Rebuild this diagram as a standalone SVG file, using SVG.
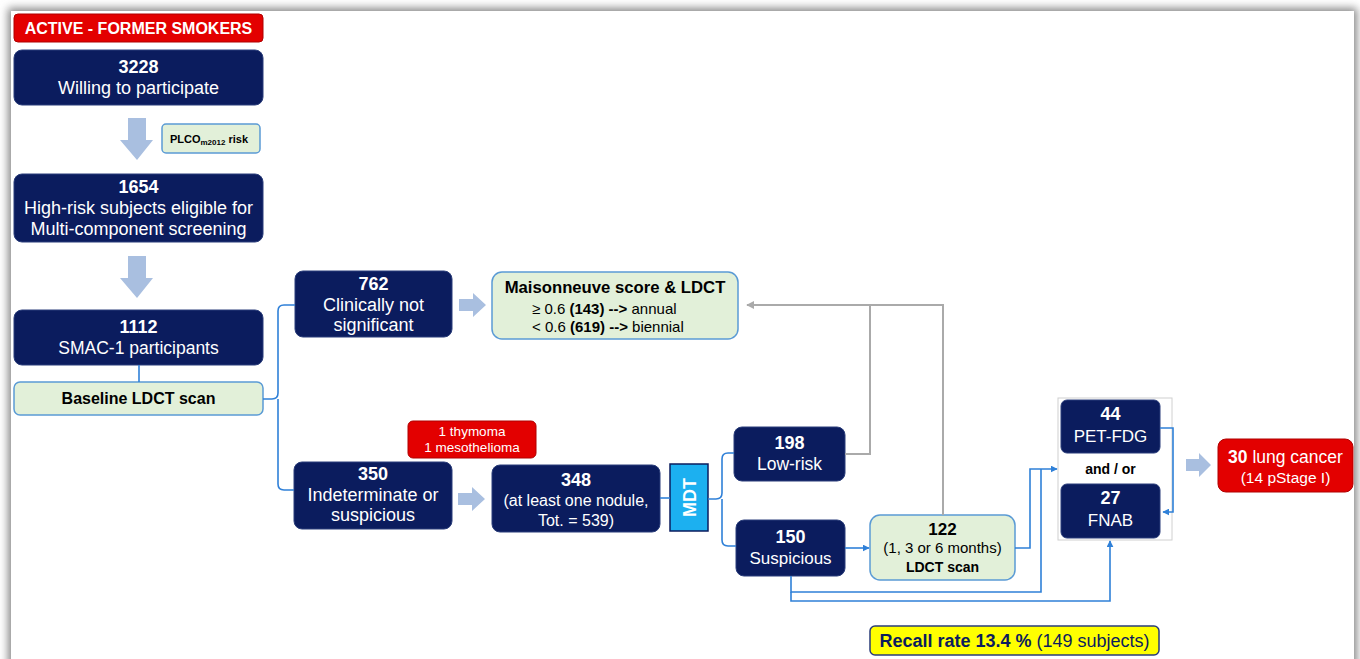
<svg xmlns="http://www.w3.org/2000/svg" width="1360" height="659" viewBox="0 0 1360 659">
<defs>
<filter id="sh" x="-5%" y="-5%" width="110%" height="110%"><feGaussianBlur stdDeviation="4"/></filter>
<marker id="ab" viewBox="0 0 10 10" refX="9" refY="5" markerWidth="7" markerHeight="7" orient="auto" markerUnits="userSpaceOnUse"><path d="M0,0 L10,5 L0,10 z" fill="#2f80d8"/></marker>
<marker id="ag" viewBox="0 0 10 10" refX="9" refY="5" markerWidth="8" markerHeight="8" orient="auto" markerUnits="userSpaceOnUse"><path d="M0,0 L10,5 L0,10 z" fill="#aaaaaa"/></marker>
<style>
.nv{fill:#0b1c5e;stroke:#2a3d7a;stroke-width:1}
.gr{fill:#e2f0d9;stroke:#5b9bd5;stroke-width:1.5}
.rd{fill:#e30000;stroke:#b00000;stroke-width:1}
.fa{fill:#a9bfe0}
text{font-family:"Liberation Sans",Arial,sans-serif;text-anchor:middle}
.w{fill:#ffffff;font-size:18px}
.b{font-weight:bold}
.k{fill:#000000;font-size:15px}
.cb{fill:none;stroke:#2f80d8;stroke-width:1.6}
.cg{fill:none;stroke:#aaaaaa;stroke-width:2}
</style>
</defs>
<rect x="0" y="0" width="1360" height="659" fill="#ffffff"/>
<rect x="8" y="8" width="1349" height="660" fill="#888888" filter="url(#sh)"/>
<rect x="11" y="11" width="1343" height="660" fill="#ffffff"/>

<g id="n-header">
<rect x="14" y="14" width="249" height="28" rx="4" class="rd"/>
<text x="138.5" y="34" class="w b" style="font-size:16px">ACTIVE - FORMER SMOKERS</text>
</g>
<g id="n-3228">
<rect x="14" y="50" width="249" height="55" rx="8" class="nv"/>
<text x="138.5" y="73" class="w b">3228</text>
<text x="138.5" y="94" class="w">Willing to participate</text>
</g>
<g id="n-plco">
<rect x="162" y="124" width="98" height="29" rx="4" class="gr"/>
<text x="209" y="143" font-size="11" font-weight="bold" fill="#000">PLCO<tspan font-size="8" dy="2">m2012</tspan><tspan dy="-2"> risk</tspan></text>
</g>
<g id="n-1654">
<rect x="14" y="174" width="249" height="68" rx="8" class="nv"/>
<text x="138.5" y="193" class="w b">1654</text>
<text x="138.5" y="214" class="w">High-risk subjects eligible for</text>
<text x="138.5" y="235" class="w">Multi-component screening</text>
</g>
<g id="n-1112">
<rect x="14" y="310" width="249" height="55" rx="8" class="nv"/>
<text x="138.5" y="333" class="w b">1112</text>
<text x="138.5" y="354" class="w" style="font-size:17.5px">SMAC-1 participants</text>
</g>
<g id="n-baseline">
<rect x="14" y="382" width="249" height="33" rx="6" class="gr"/>
<text x="138.5" y="404" class="k b" style="font-size:16px">Baseline LDCT scan</text>
</g>
<g id="n-762">
<rect x="295" y="271" width="157" height="66" rx="8" class="nv"/>
<text x="373.5" y="290" class="w b">762</text>
<text x="373.5" y="311" class="w">Clinically not</text>
<text x="373.5" y="331" class="w">significant</text>
</g>
<g id="n-maison">
<rect x="492" y="272" width="246" height="67" rx="10" class="gr"/>
<text x="615" y="293" class="k b" style="font-size:16.7px">Maisonneuve score &amp; LDCT</text>
<text x="532" y="314" class="k" style="text-anchor:start">≥ 0.6 <tspan font-weight="bold">(143) --&gt;</tspan> annual</text>
<text x="532" y="332" class="k" style="text-anchor:start">&lt; 0.6 <tspan font-weight="bold">(619) --&gt;</tspan> biennial</text>
</g>
<g id="n-thymoma">
<rect x="408" y="421" width="128" height="37" rx="5" class="rd"/>
<text x="472" y="436" class="w" style="font-size:13.5px">1 thymoma</text>
<text x="472" y="452" class="w" style="font-size:13.5px">1 mesothelioma</text>
</g>
<g id="n-350">
<rect x="294" y="462" width="158" height="67" rx="8" class="nv"/>
<text x="373" y="480" class="w b">350</text>
<text x="373" y="501" class="w">Indeterminate or</text>
<text x="373" y="521" class="w">suspicious</text>
</g>
<g id="n-348">
<rect x="492" y="465" width="168" height="67" rx="8" class="nv"/>
<text x="576" y="486" class="w b">348</text>
<text x="576" y="506" class="w" style="font-size:16px">(at least one nodule,</text>
<text x="576" y="526" class="w" style="font-size:16px">Tot. = 539)</text>
</g>
<g id="n-mdt">
<rect x="670" y="464" width="38" height="67" fill="#1cb0f0" stroke="#0b1c5e" stroke-width="1.5"/>
<text x="0" y="0" class="w b" transform="translate(696,497.5) rotate(-90)">MDT</text>
</g>
<g id="n-198">
<rect x="734" y="427" width="111" height="54" rx="8" class="nv"/>
<text x="789.5" y="449" class="w b">198</text>
<text x="789.5" y="470" class="w" style="font-size:17.5px">Low-risk</text>
</g>
<g id="n-150">
<rect x="736" y="520" width="109" height="56" rx="8" class="nv"/>
<text x="790.5" y="543" class="w b">150</text>
<text x="790.5" y="564" class="w" style="font-size:17px">Suspicious</text>
</g>
<g id="n-122">
<rect x="870" y="515" width="145" height="65" rx="10" class="gr"/>
<text x="942.5" y="535" class="k b" style="font-size:17px">122</text>
<text x="942.5" y="553" class="k">(1, 3 or 6 months)</text>
<text x="942.5" y="572" class="k b" style="font-size:14px">LDCT scan</text>
</g>
<g id="n-petfnab">
<rect x="1058" y="398" width="114" height="142" fill="#ffffff" stroke="#d0d0d0" stroke-width="1"/>
<rect x="1061" y="400" width="99" height="53" rx="6" class="nv"/>
<text x="1110.5" y="420" class="w b">44</text>
<text x="1110.5" y="442" class="w" style="font-size:17px">PET-FDG</text>
<text x="1110.5" y="474" class="k b" style="font-size:14px">and / or</text>
<rect x="1061" y="484" width="99" height="54" rx="6" class="nv"/>
<text x="1110.5" y="504" class="w b">27</text>
<text x="1110.5" y="526" class="w" style="font-size:17px">FNAB</text>
</g>
<g id="n-cancer">
<rect x="1218" y="439" width="135" height="53" rx="8" class="rd"/>
<text x="1285.5" y="463" class="w" style="font-size:17.5px"><tspan font-weight="bold">30</tspan> lung cancer</text>
<text x="1285.5" y="483" class="w" style="font-size:15.5px">(14 pStage I)</text>
</g>
<g id="n-recall">
<rect x="870" y="626" width="289" height="29" rx="5" fill="#ffff00" stroke="#2a3d7a" stroke-width="1.5"/>
<text x="1014.5" y="647" fill="#0b1c5e" style="font-size:18px"><tspan font-weight="bold">Recall rate 13.4 %</tspan> (149 subjects)</text>
</g>

<g id="connectors">
<line x1="139" y1="365" x2="139" y2="382" class="cb"/>
<path d="M263,399 H272 Q278,399 278,393 V311 Q278,305 284,305 H295" class="cb"/>
<path d="M278,399 V484 Q278,490 284,490 H294" class="cb"/>
<line x1="660" y1="498" x2="670" y2="498" class="cb"/>
<path d="M708,499 H716 Q722,499 722,493 V459 Q722,453 728,453 H734" class="cb"/>
<path d="M722,499 V540 Q722,546 728,546 H736" class="cb"/>
<line x1="845" y1="548" x2="869" y2="548" class="cb" marker-end="url(#ab)"/>
<path d="M1015,548 H1030 V469 H1057" class="cb" marker-end="url(#ab)"/>
<path d="M791,576 V592 H1041 V469" class="cb"/>
<path d="M791,592 V601 H1110 V541" class="cb" marker-end="url(#ab)"/>
<path d="M1160,428 H1173 V512 H1163" class="cb" marker-end="url(#ab)"/>
<path d="M845,454 H870 V305" class="cg"/>
<path d="M943,515 V305 H747" class="cg" marker-end="url(#ag)"/>
<path d="M128,118 H146 V140 H153 L137,160 L120,140 H128 Z" class="fa"/>
<path d="M128,256 H146 V278 H153 L137,298 L120,278 H128 Z" class="fa"/>
<path d="M459,299 H473 V293 L486,305 L473,317 V311 H459 Z" class="fa"/>
<path d="M458,493 H472 V487 L485,499 L472,511 V505 H458 Z" class="fa"/>
<path d="M1186,459 H1199 V453 L1211,465 L1199,477 V471 H1186 Z" class="fa"/>
</g>
</svg>
